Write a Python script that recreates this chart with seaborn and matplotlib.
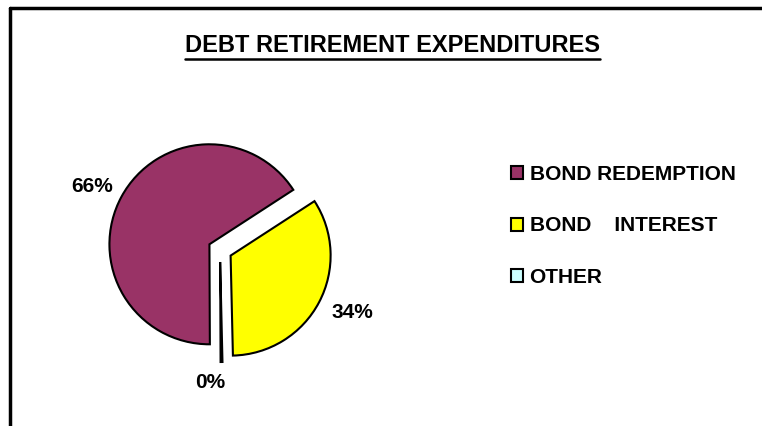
import matplotlib
matplotlib.use("Agg")
import matplotlib.pyplot as plt
from matplotlib.lines import Line2D
from matplotlib.patches import Patch
import seaborn as sns

sns.set_theme(style="white")
plt.rcParams['font.family'] = ['Liberation Sans', 'DejaVu Sans']
plt.rcParams['text.color'] = 'black'

# data (share of debt retirement spending, %)
categories = ['BOND REDEMPTION', 'BOND    INTEREST', 'OTHER']
values = [65.9, 33.8, 0.3]
colors = ['#993366', '#FFFF00', '#CCFFFF']

# pie is drawn counter-clockwise: redemption, other, interest
order = [0, 2, 1]
pie_vals = [values[i] for i in order]
pie_cols = [colors[i] for i in order]

fig = plt.figure(figsize=(7.62, 4.26), dpi=100)
fig.patch.set_facecolor('white')

ax = fig.add_axes([90 / 762, 46 / 426, 260 / 762, 260 / 426])
wedges, texts, autotexts = ax.pie(
    pie_vals, colors=pie_cols, startangle=33, counterclock=True,
    explode=[0.12, 0.12, 0.12], radius=1.0,
    autopct='%1.0f%%', pctdistance=1.33,
    wedgeprops=dict(edgecolor='black', linewidth=1.5),
    textprops=dict(fontsize=15, fontweight='bold', color='black'))
# nudge labels a little, like the original
autotexts[1].set_position((-0.1, -1.33))
x0, y0 = autotexts[0].get_position()
autotexts[0].set_position((x0, y0 - 0.05))
x2, y2 = autotexts[2].get_position()
autotexts[2].set_position((x2 + 0.04, y2 + 0.05))
ax.set_xlim(-1.3, 1.3)
ax.set_ylim(-1.3, 1.3)
ax.set_aspect('equal')
ax.axis('off')

# title with underline
title = fig.text(392 / 762, 1 - 46 / 426, 'DEBT RETIREMENT EXPENDITURES',
                 ha='center', va='center', fontsize=17, fontweight='bold')
fig.canvas.draw()
bb = title.get_window_extent(fig.canvas.get_renderer())
uy = (bb.y0 - 1) / fig.bbox.height
fig.add_artist(Line2D([bb.x0 / fig.bbox.width, bb.x1 / fig.bbox.width], [uy, uy],
                      color='black', linewidth=1.8, transform=fig.transFigure))

# legend
handles = [Patch(facecolor=c, edgecolor='black', linewidth=1.5) for c in colors]
fig.legend(handles, categories, loc='upper left', bbox_to_anchor=(492 / 762, 1 - 146 / 426),
           frameon=False, prop=dict(size=15, weight='bold'),
           handlelength=0.6, handleheight=0.6, handletextpad=0.3, labelspacing=1.57)

# frame lines (top and left)
fig.add_artist(Line2D([10 / 762, 1], [1 - 8 / 426, 1 - 8 / 426], color='black',
                      linewidth=2.5, transform=fig.transFigure))
fig.add_artist(Line2D([10 / 762, 10 / 762], [0, 1 - 8 / 426], color='black',
                      linewidth=2.5, transform=fig.transFigure))

fig.savefig('out.png', dpi=100, facecolor='white')
